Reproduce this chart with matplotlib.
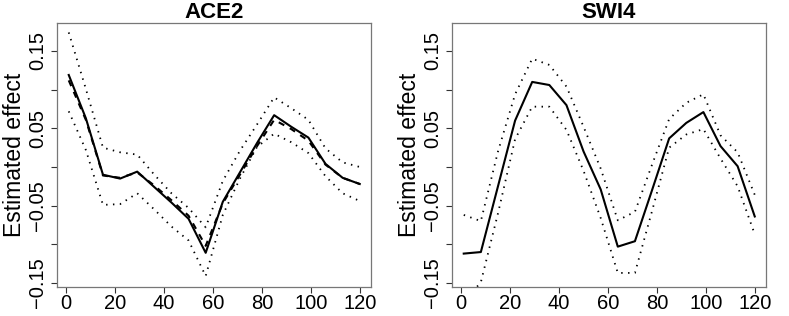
import matplotlib
matplotlib.use("Agg")
import matplotlib.pyplot as plt

plt.rcParams['font.family'] = ['Liberation Sans', 'DejaVu Sans']

# time points (same for both genes)
x = [1, 8, 15, 22, 29, 36, 43, 50, 57, 64, 71, 78, 85, 92, 99, 106, 113, 120]

# ACE2
ace2_est = [0.119, 0.063, -0.010, -0.015, -0.006, -0.026, -0.046, -0.067, -0.111,
            -0.045, -0.007, 0.031, 0.067, 0.052, 0.038, 0.004, -0.014, -0.022]
ace2_alt = [0.112, 0.061, -0.011, -0.014, -0.007, -0.024, -0.043, -0.063, -0.102,
            -0.047, -0.010, 0.027, 0.061, 0.049, 0.034, 0.003, -0.014, -0.022]
ace2_up = [0.174, 0.101, 0.025, 0.019, 0.016, -0.010, -0.034, -0.053, -0.078,
           -0.018, 0.021, 0.055, 0.090, 0.076, 0.061, 0.024, 0.006, 0.000]
ace2_lo = [0.072, 0.022, -0.049, -0.048, -0.034, -0.055, -0.077, -0.095, -0.141,
           -0.062, -0.015, 0.026, 0.043, 0.032, 0.018, -0.012, -0.034, -0.044]

# SWI4
swi4_est = [-0.112, -0.110, -0.025, 0.060, 0.110, 0.106, 0.080, 0.020, -0.029,
            -0.103, -0.096, -0.030, 0.037, 0.057, 0.071, 0.027, 0.001, -0.064]
swi4_up = [-0.062, -0.070, 0.020, 0.094, 0.140, 0.132, 0.104, 0.052, -0.002,
           -0.069, -0.058, 0.003, 0.062, 0.083, 0.094, 0.041, 0.019, -0.036]
swi4_lo = [-0.175, -0.149, -0.060, 0.036, 0.078, 0.078, 0.048, -0.005, -0.066,
           -0.137, -0.137, -0.057, 0.025, 0.042, 0.049, 0.011, -0.025, -0.087]

xticks = [0, 20, 40, 60, 80, 100, 120]
yticks = [-0.15, -0.10, -0.05, 0.00, 0.05, 0.10, 0.15]
ylabels = ['\u22120.15', '', '\u22120.05', '', '0.05', '', '0.15']


def draw_panel(ax, title, est, up, lo, alt=None):
    dot = dict(color='black', linewidth=1.3, linestyle=(0, (0.8, 3.0)))
    ax.plot(x, up, **dot)
    ax.plot(x, lo, **dot)
    ax.plot(x, est, color='black', linewidth=1.5)
    if alt is not None:
        ax.plot(x, alt, color='black', linewidth=1.5, linestyle=(0, (3, 3)))
    ax.set_xlim(-3.8, 124.6)
    ax.set_ylim(-0.1552, 0.1862)
    ax.set_xticks(xticks)
    ax.set_yticks(yticks)
    ax.set_yticklabels(ylabels, rotation=90, va='center')
    ax.tick_params(axis='both', direction='out', length=4.5, width=0.8,
                   color='#333333', labelsize=14.5)
    ax.tick_params(axis='x', pad=0.8)
    ax.tick_params(axis='y', pad=2.5)
    for sp in ax.spines.values():
        sp.set_color('#777777')
        sp.set_linewidth(0.9)
    ax.set_title(title, fontsize=16, fontweight='bold', pad=2)
    ax.set_ylabel('Estimated effect', fontsize=16.5)
    ax.yaxis.set_label_coords(-0.100, 0.5)


fig = plt.figure(figsize=(7.89, 3.16), dpi=100)
ax1 = fig.add_axes([57 / 789, 29 / 316, 314 / 789, 264 / 316])
ax2 = fig.add_axes([452 / 789, 29 / 316, 314 / 789, 264 / 316])

draw_panel(ax1, 'ACE2', ace2_est, ace2_up, ace2_lo, alt=ace2_alt)
draw_panel(ax2, 'SWI4', swi4_est, swi4_up, swi4_lo)

fig.savefig('out.png', dpi=100)
plt.close(fig)
